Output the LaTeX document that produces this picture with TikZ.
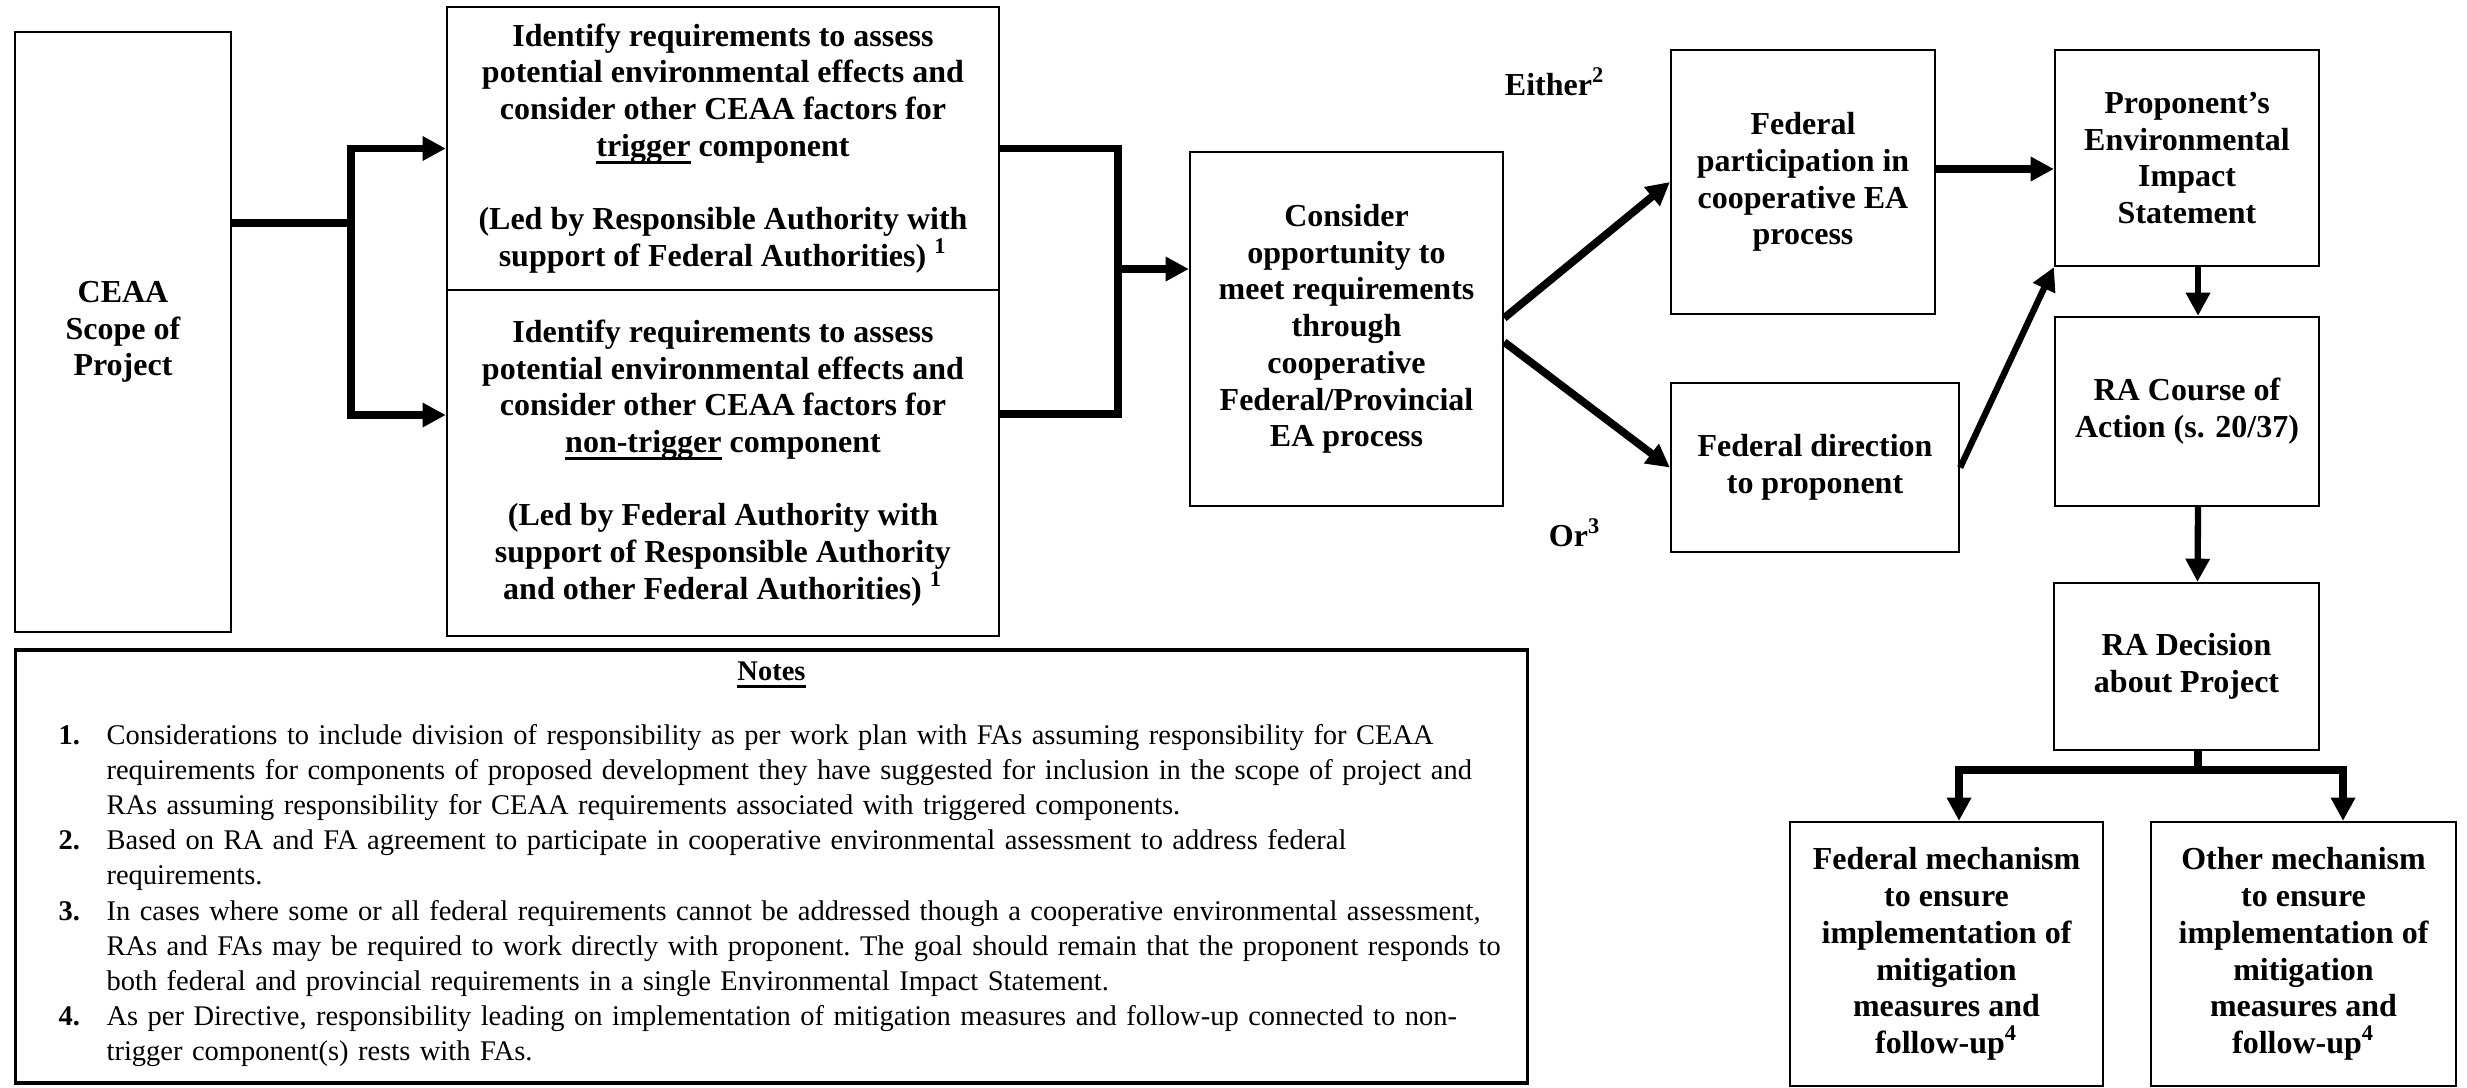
\documentclass[tikz,border=0pt]{standalone}
\usepackage{fontspec}
\setmainfont{Liberation Serif}
\usetikzlibrary{arrows.meta}
\newcommand{\boxfont}{\fontsize{9.1}{10.45}\selectfont\bfseries}
\newcommand{\notefont}{\fontsize{8.1}{10}\selectfont\frenchspacing}
\newcommand{\thickul}[1]{\setbox0\hbox{#1}\rlap{\rule[-2.2pt]{\wd0}{0.8pt}}\box0{}}

\begin{document}
\begin{tikzpicture}[x=0.01cm, y=-0.01cm, >={Triangle[length=6.6pt,width=6.6pt]},
    box/.style={draw, line width=.6pt, align=center, inner sep=2pt, font=\boxfont},
    flow/.style={line width=2.2pt},
    slim/.style={line width=1.8pt}]
\useasboundingbox (0,0) rectangle (2467,1087);
% boxes
\node[box, minimum width=2.16cm, minimum height=6cm] (ceaa) at (123,332) {CEAA\\Scope of\\Project};
\node[box, minimum width=5.52cm, minimum height=2.83cm] (trig) at (723,148.5) {Identify requirements to assess\\potential environmental effects and\\consider other CEAA factors for\\\thickul{trigger} component\\[10.45pt](Led by Responsible Authority with\\support of Federal Authorities)~\textsuperscript{1}};
\node[box, minimum width=5.52cm, minimum height=3.46cm] (nontrig) at (723,463) {Identify requirements to assess\\potential environmental effects and\\consider other CEAA factors for\\\thickul{non-trigger} component\\[10.45pt](Led by Federal Authority with\\support of Responsible Authority\\and other Federal Authorities)~\textsuperscript{1}};
\node[box, minimum width=3.13cm, minimum height=3.54cm] (consider) at (1346.5,329) {Consider\\opportunity to\\meet requirements\\through\\cooperative\\Federal/Provincial\\EA process};
\node[box, minimum width=2.64cm, minimum height=2.64cm] (fedpart) at (1803,182) {Federal\\participation in\\cooperative EA\\process};
\node[box, minimum width=2.88cm, minimum height=1.69cm] (feddir) at (1815,467.5) {Federal direction\\to proponent};
\node[box, minimum width=2.64cm, minimum height=2.16cm] (proponent) at (2187,158) {Proponent’s\\Environmental\\Impact\\Statement};
\node[box, minimum width=2.64cm, minimum height=1.89cm] (racourse) at (2187,411.5) {RA Course of\\Action (s. 20/37)};
\node[box, minimum width=2.65cm, minimum height=1.67cm] (radecision) at (2186.5,666.5) {RA Decision\\about Project};
\node[box, minimum width=3.13cm, minimum height=2.64cm] (fedmech) at (1946.5,954) {Federal mechanism\\to ensure\\implementation of\\mitigation\\measures and\\follow-up\textsuperscript{4}};
\node[box, minimum width=3.05cm, minimum height=2.64cm] (othermech) at (2303.5,954) {Other mechanism\\to ensure\\implementation of\\mitigation\\measures and\\follow-up\textsuperscript{4}};
\node[font=\boxfont] (either) at (1555,82) {Either\textsuperscript{2}};
\node[font=\boxfont] (or) at (1575,533) {Or\textsuperscript{3}};
% notes
\node[draw, line width=1pt, font=\notefont, align=left, text width=14.25cm, inner xsep=0.43cm,
      minimum height=4.33cm] (notes) at (771.5,866.5) {%
{\centering\textbf{\thickul{Notes}}\par}\vspace{0.28cm}
\begin{tabular}{@{}p{0.48cm}@{}l@{}}
\textbf{1.} & Considerations to include division of responsibility as per work plan with FAs assuming responsibility for CEAA\\
 & requirements for components of proposed development they have suggested for inclusion in the scope of project and\\
 & RAs assuming responsibility for CEAA requirements associated with triggered components.\\
\textbf{2.} & Based on RA and FA agreement to participate in cooperative environmental assessment to address federal\\
 & requirements.\\
\textbf{3.} & In cases where some or all federal requirements cannot be addressed though a cooperative environmental assessment,\\
 & RAs and FAs may be required to work directly with proponent. The goal should remain that the proponent responds to\\
 & both federal and provincial requirements in a single Environmental Impact Statement.\\
\textbf{4.} & As per Directive, responsibility leading on implementation of mitigation measures and follow-up connected to non-\\
 & trigger component(s) rests with FAs.
\end{tabular}};
% connectors
\coordinate (fork) at (351,223);
\coordinate (forkB) at (351,415);
\draw[flow] (ceaa.east |- fork) -- (fork);
\draw[flow,<->] (trig.west) -| (forkB) -- (nontrig.west |- forkB);
\coordinate (joinB) at (1118,414);
\coordinate (joinM) at (1118,269);
\draw[flow] (trig.east) -| (joinB) -- (nontrig.east |- joinB);
\draw[flow,->] (joinM) -- (consider.west |- joinM);
\draw[flow,->] ([yshift=.11cm]consider.east) -- (fedpart.west);
\draw[flow,->] ([yshift=-.13cm]consider.east) -- (feddir.west);
\coordinate (fp) at ([yshift=.13cm]fedpart.east);
\draw[flow,->] (fp) -- (fp -| proponent.west);
\draw[slim,->] (feddir.east) -- (proponent.south west);
\draw[slim,->] ([xshift=.11cm]proponent.south) -- ([xshift=.11cm]racourse.north);
\draw[slim,->] ([xshift=.11cm]racourse.south) -- ([xshift=.11cm]radecision.north);
\coordinate (busL) at (1959,770);
\coordinate (busR) at (2343,770);
\draw[flow] ([xshift=.115cm]radecision.south) -- ([xshift=.115cm]radecision.south |- busL);
\draw[flow,<->] (busL |- fedmech.north) -- (busL) -- (busR) -- (busR |- othermech.north);
\end{tikzpicture}
\end{document}
